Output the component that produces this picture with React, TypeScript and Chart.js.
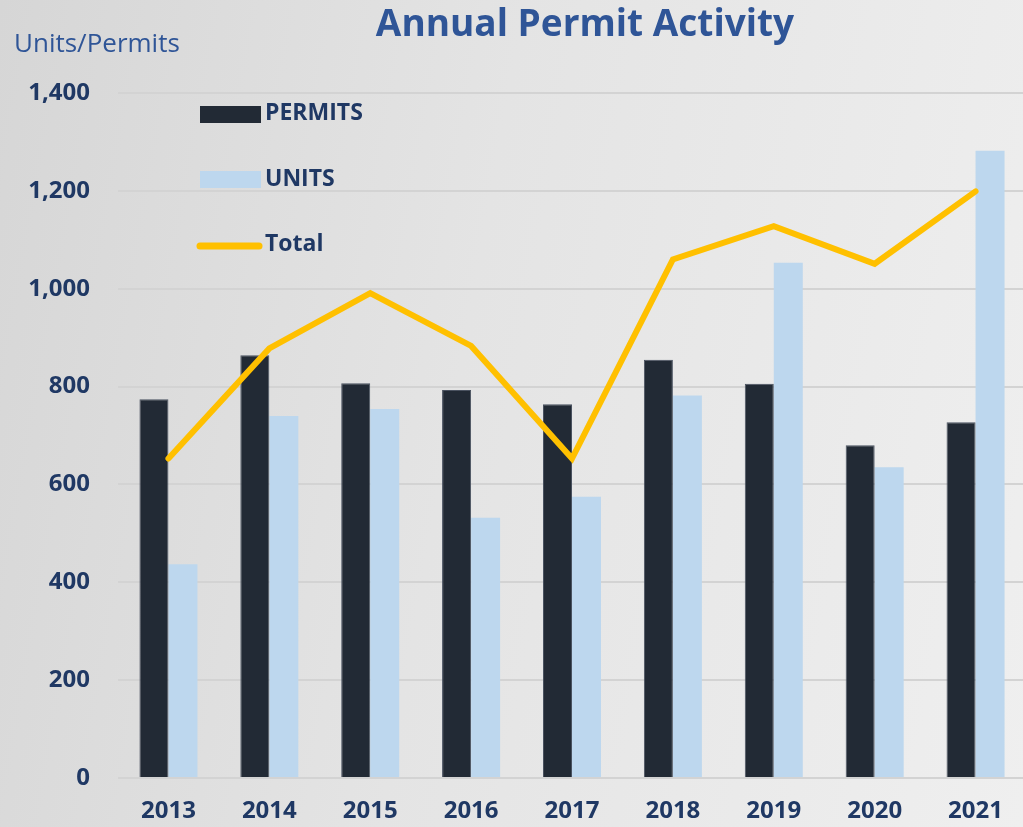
import React, { useEffect, useRef } from "react";
import { Chart, registerables } from "chart.js";

Chart.register(...registerables);

const years = ["2013", "2014", "2015", "2016", "2017", "2018", "2019", "2020", "2021"];
const permits = [774, 864, 807, 793, 764, 855, 806, 680, 727];
const units = [437, 740, 754, 532, 575, 782, 1053, 635, 1282];
const totals = [653, 878, 991, 883, 653, 1060, 1128, 1051, 1199];
const yTicks = [0, 200, 400, 600, 800, 1000, 1200, 1400];

const NAVY = "#1f3864";
const TITLE_BLUE = "#2f5597";
const FONT = "'Open Sans', 'DejaVu Sans', sans-serif";

const overlayPlugin = {
  id: "overlay",
  afterDraw(chart: any) {
    const ctx = chart.ctx as CanvasRenderingContext2D;
    ctx.save();
    // Title
    ctx.fillStyle = TITLE_BLUE;
    ctx.font = `bold 37px ${FONT}`;
    ctx.textAlign = "center";
    ctx.textBaseline = "middle";
    ctx.fillText("Annual Permit Activity", 585, 25);
    // Axis title
    ctx.font = `26px ${FONT}`;
    ctx.textAlign = "left";
    ctx.fillText("Units/Permits", 14, 45);
    // Legend
    const ds = chart.data.datasets;
    ctx.font = `bold 23px ${FONT}`;
    ctx.fillStyle = ds[0].backgroundColor;
    ctx.fillRect(200, 106, 61, 17);
    ctx.fillStyle = ds[1].backgroundColor;
    ctx.fillRect(200, 171, 61, 17);
    ctx.strokeStyle = ds[2].borderColor;
    ctx.lineWidth = 7;
    ctx.lineCap = "round";
    ctx.beginPath();
    ctx.moveTo(200, 246);
    ctx.lineTo(259, 246);
    ctx.stroke();
    ctx.fillStyle = NAVY;
    ctx.fillText(ds[0].label, 265, 113);
    ctx.fillText(ds[1].label, 265, 179);
    ctx.fillText(ds[2].label, 265, 244);
    ctx.restore();
  },
};

export default function App() {
  const ref = useRef<HTMLCanvasElement>(null);
  useEffect(() => {
    if (!ref.current) return;
    const chart = new Chart(ref.current, {
      type: "bar",
      data: {
        labels: years,
        datasets: [
          {
            type: "bar",
            label: "PERMITS",
            data: permits,
            backgroundColor: "#222a35",
            borderColor: "#4a5260",
            borderWidth: 1,
            order: 1,
          },
          {
            type: "bar",
            label: "UNITS",
            data: units,
            backgroundColor: "#bdd7ee",
            borderWidth: 0,
            order: 1,
          },
          {
            type: "line",
            label: "Total",
            data: totals,
            borderColor: "#ffc000",
            backgroundColor: "#ffc000",
            borderWidth: 6,
            borderCapStyle: "round",
            borderJoinStyle: "miter",
            pointRadius: 0,
            tension: 0,
            order: 0,
          },
        ],
      } as any,
      options: {
        animation: false,
        responsive: false,
        maintainAspectRatio: false,
        layout: { padding: { top: 93, left: 0, right: 0, bottom: 0 } },
        datasets: {
          bar: { barPercentage: 1, categoryPercentage: 0.575 },
        },
        plugins: {
          legend: { display: false },
          title: { display: false },
          tooltip: { enabled: false },
        },
        scales: {
          x: {
            grid: { display: false, drawTicks: false },
            border: { display: false },
            ticks: {
              color: NAVY,
              font: { family: FONT, size: 24, weight: "bold" },
              padding: 19,
            },
            afterFit: (s: any) => {
              s.height = 49;
            },
          },
          y: {
            min: 0,
            max: 1400,
            afterBuildTicks: (s: any) => {
              s.ticks = yTicks.map((v) => ({ value: v }));
            },
            grid: { color: "#d3d3d3", lineWidth: 2, drawTicks: false },
            border: { display: false },
            ticks: {
              color: NAVY,
              font: { family: FONT, size: 24, weight: "bold" },
              padding: 28,
              callback: (v: any) => Number(v).toLocaleString("en-US"),
            },
            afterFit: (s: any) => {
              s.width = 118;
            },
          },
        },
      } as any,
      plugins: [overlayPlugin],
    });
    return () => chart.destroy();
  }, []);
  return (
    <div
      style={{
        position: "fixed",
        left: 0,
        top: 0,
        width: 1023,
        height: 827,
        overflow: "hidden",
        background: "linear-gradient(100deg, #d6d6d6 0%, #e4e4e4 45%, #efefef 100%)",
      }}
    >
      <canvas ref={ref} width={1026} height={827} style={{ display: "block", width: 1026, height: 827 }} />
    </div>
  );
}
